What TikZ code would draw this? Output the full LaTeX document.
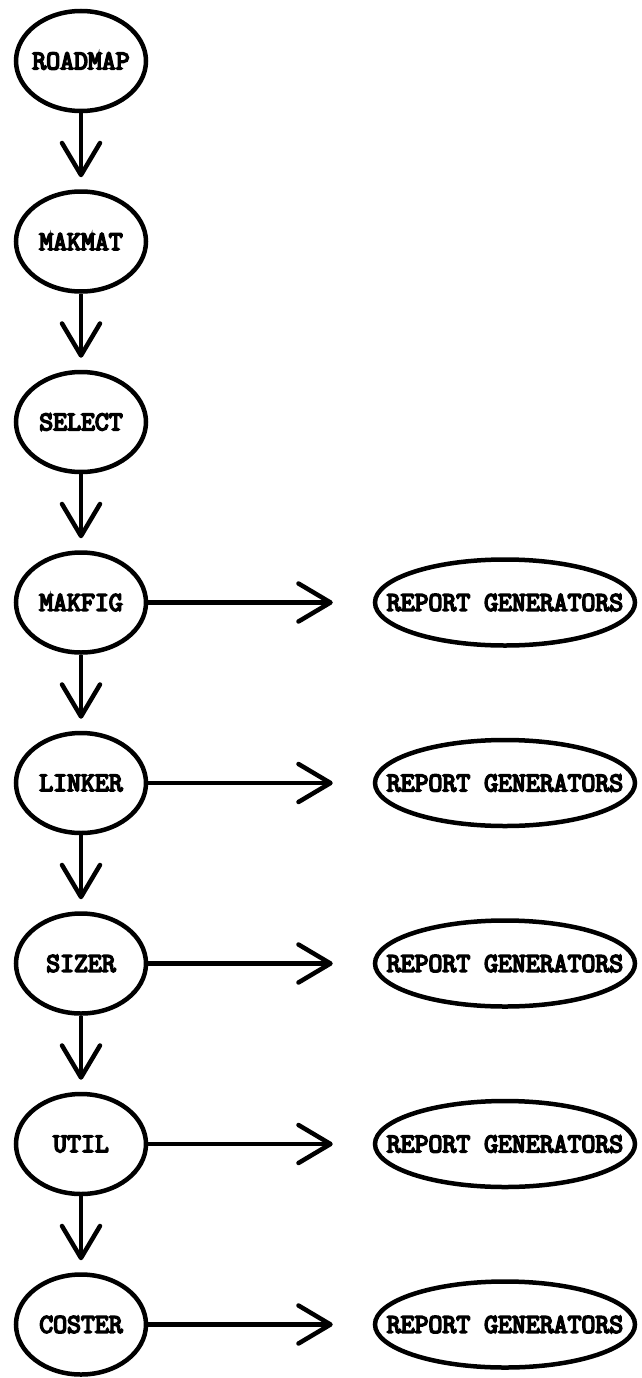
\documentclass[tikz,border=0pt]{standalone}
\usepackage{fontspec}
\newfontfamily\typer{Latin Modern Mono}[FakeBold=6]
\usetikzlibrary{shapes.geometric,arrows.meta}
\tikzset{
  prog/.style={ellipse, draw, line width=4.5pt, minimum width=130pt,
    minimum height=100pt, inner sep=0pt},
  report/.style={ellipse, draw, line width=4.5pt, minimum width=260pt,
    minimum height=86pt, inner sep=0pt},
  lbl/.style={font=\typer\fontsize{27}{27}\selectfont, inner sep=0pt},
  flow/.style={line width=4.5pt, -{Straight Barb[length=32pt,width=38pt,round]}},
  down/.style={flow, shorten >=12pt},
  side/.style={flow, shorten >=40pt},
}
\begin{document}
\begin{tikzpicture}[x=1pt,y=-1pt]
\useasboundingbox (0,0) rectangle (641,1378);

% program chain
\node[prog, label={[lbl]center:ROADMAP}] (roadmap) at (81,61) {};
\node[prog, label={[lbl]center:MAKMAT}]  (makmat)  at (81,241.5) {};
\node[prog, label={[lbl]center:SELECT}]  (select)  at (81,422) {};
\node[prog, label={[lbl]center:MAKFIG}]  (makfig)  at (81,602.5) {};
\node[prog, label={[lbl]center:LINKER}]  (linker)  at (81,783) {};
\node[prog, label={[lbl]center:SIZER}]   (sizer)   at (81,963.5) {};
\node[prog, label={[lbl]center:UTIL}]    (util)    at (81,1144) {};
\node[prog, label={[lbl]center:COSTER}]  (coster)  at (81,1324.5) {};

% report generators
\node[report, label={[lbl]center:REPORT GENERATORS}] (rg1) at (505,602.5) {};
\node[report, label={[lbl]center:REPORT GENERATORS}] (rg2) at (505,783) {};
\node[report, label={[lbl]center:REPORT GENERATORS}] (rg3) at (505,963.5) {};
\node[report, label={[lbl]center:REPORT GENERATORS}] (rg4) at (505,1144) {};
\node[report, label={[lbl]center:REPORT GENERATORS}] (rg5) at (505,1324.5) {};

% downward flow
\draw[down] (roadmap) -- (makmat);
\draw[down] (makmat) -- (select);
\draw[down] (select) -- (makfig);
\draw[down] (makfig) -- (linker);
\draw[down] (linker) -- (sizer);
\draw[down] (sizer) -- (util);
\draw[down] (util) -- (coster);

% report outputs
\draw[side] (makfig) -- (rg1);
\draw[side] (linker) -- (rg2);
\draw[side] (sizer) -- (rg3);
\draw[side] (util) -- (rg4);
\draw[side] (coster) -- (rg5);
\end{tikzpicture}
\end{document}
